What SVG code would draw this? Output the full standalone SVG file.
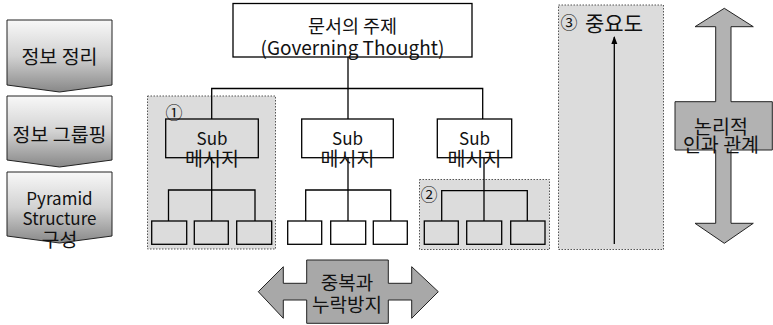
<svg xmlns="http://www.w3.org/2000/svg" width="773" height="325" viewBox="0 0 773 325">
<defs>
<linearGradient id="chev" x1="0" y1="0" x2="0" y2="1">
<stop offset="0" stop-color="#f8f8f8"/>
<stop offset="0.5" stop-color="#d2d2d2"/>
<stop offset="1" stop-color="#888"/>
</linearGradient>
<marker id="arr" viewBox="0 0 8 8" refX="7" refY="4" markerWidth="8" markerHeight="8" markerUnits="userSpaceOnUse" orient="auto">
<path d="M0,1 L8,4 L0,7 Z" fill="#000"/>
</marker>
</defs>
<style>
text{font-family:"Noto Sans CJK KR","Noto Sans",sans-serif;font-size:17px;fill:#111;text-anchor:middle;dominant-baseline:central}
.ko{font-size:19.5px}
.chev{fill:url(#chev);stroke:#222;stroke-width:1}
.box{fill:#fff;stroke:#000;stroke-width:1.3}
.gbox{fill:none;stroke:#000;stroke-width:1.3}
.panel{fill:#dcdcdc;stroke:#555;stroke-width:1;stroke-dasharray:1.5 1.5}
.line{fill:none;stroke:#000;stroke-width:1.3}
.big{fill:#b2b2b2;stroke:#222;stroke-width:1}
.big2{fill:#a8a8a8;stroke:#222;stroke-width:1}
.num{font-size:17px}
</style>
<rect width="773" height="325" fill="#fff"/>

<g id="step1">
<polygon class="chev" points="7,20 112,20 112,85 59.5,92 7,85"/>
<text class="ko" x="59.5" y="55">정보 정리</text>
</g>
<g id="step2">
<polygon class="chev" points="7,96 112,96 112,160 59.5,167 7,160"/>
<text class="ko" x="59.5" y="133">정보 그룹핑</text>
</g>
<g id="step3">
<polygon class="chev" points="7,172 112,172 112,236 59.5,243 7,236"/>
<text x="59.5" y="197">Pyramid</text>
<text x="59.5" y="217">Structure</text>
<text class="ko" x="59.5" y="238">구성</text>
</g>

<g id="panel1"><rect class="panel" x="147.5" y="96" width="128" height="153"/><text class="num" x="174" y="111">①</text></g>
<g id="panel2"><rect class="panel" x="419.5" y="179.5" width="130" height="70"/><text class="num" x="429" y="193.5">②</text></g>
<g id="panel3"><rect class="panel" x="558.5" y="5" width="105" height="244.5"/><text class="num" x="569" y="21.5">③</text><text x="614" y="21.5" style="font-size:21px">중요도</text></g>

<g id="connectors">
<line class="line" x1="348" y1="57" x2="348" y2="119"/>
<polyline class="line" points="211.7,119 211.7,88.5 482.7,88.5 482.7,119"/>
<line class="line" x1="211.7" y1="158" x2="211.7" y2="190"/>
<polyline class="line" points="168.5,221 168.5,190 255,190 255,221"/>
<line class="line" x1="211.7" y1="190" x2="211.7" y2="221"/>
<line class="line" x1="348" y1="158" x2="348" y2="221"/>
<polyline class="line" points="305.7,221 305.7,190 390.7,190 390.7,221"/>
<line class="line" x1="484" y1="158" x2="484" y2="221"/>
<polyline class="line" points="441.7,221 441.7,190.7 527.3,190.7 527.3,221"/>
<line x1="614.3" y1="244" x2="614.3" y2="37" stroke="#000" stroke-width="1.3" marker-end="url(#arr)"/>
</g>

<g id="top">
<rect class="box" x="233" y="3.5" width="239" height="53.5"/>
<text x="352.5" y="25" style="font-size:18.5px">문서의 주제</text>
<text x="352.5" y="46" style="font-size:19px">(Governing Thought)</text>
</g>
<g id="sub1">
<rect class="gbox" x="165.7" y="119" width="92.6" height="38.7"/>
<text x="212" y="137">Sub</text>
<text class="ko" x="212" y="157">메시지</text>
</g>
<g id="sub2">
<rect class="box" x="301.7" y="119" width="91.6" height="38.7"/>
<text x="347.5" y="137">Sub</text>
<text class="ko" x="347.5" y="157">메시지</text>
</g>
<g id="sub3">
<rect class="box" x="437.3" y="119" width="74.4" height="38.7"/>
<text x="474.5" y="137">Sub</text>
<text class="ko" x="474.5" y="157">메시지</text>
</g>

<g id="leaf1a"><rect class="gbox" x="151.7" y="221" width="35" height="23.3"/></g>
<g id="leaf1b"><rect class="gbox" x="194.3" y="221" width="34" height="23.3"/></g>
<g id="leaf1c"><rect class="gbox" x="236.7" y="221" width="35" height="23.3"/></g>
<g id="leaf2a"><rect class="box" x="287.7" y="221" width="34" height="23.3"/></g>
<g id="leaf2b"><rect class="box" x="330.7" y="221" width="35" height="23.3"/></g>
<g id="leaf2c"><rect class="box" x="373.3" y="221" width="34" height="23.3"/></g>
<g id="leaf3a"><rect class="gbox" x="424.3" y="221" width="34" height="23.3"/></g>
<g id="leaf3b"><rect class="gbox" x="466.7" y="221" width="35" height="23.3"/></g>
<g id="leaf3c"><rect class="gbox" x="510.7" y="221" width="34.3" height="23.3"/></g>

<g id="logic">
<polygon class="big" points="724.3,8.3 753.3,26.7 731,26.7 731,101.7 772.3,101.7 772.3,150 731,150 731,223.3 753.3,223.3 724.3,243.3 695,223.3 715.7,223.3 715.7,150 675,150 675,101.7 715.7,101.7 715.7,26.7 695,26.7"/>
<text class="ko" x="721" y="125">논리적</text>
<text class="ko" x="721" y="143">인과 관계</text>
</g>
<g id="mece">
<polygon class="big2" points="258.3,291.7 283.3,266.7 283.3,283.3 306.7,283.3 306.7,260 388.3,260 388.3,283.3 411.7,283.3 411.7,266.7 438.3,291.7 411.7,318.3 411.7,300 388.3,300 388.3,323.3 306.7,323.3 306.7,300 283.3,300 283.3,318.3"/>
<text x="347" y="281.5" style="font-size:19px">중복과</text>
<text x="347" y="303.5" style="font-size:19px">누락방지</text>
</g>
</svg>
